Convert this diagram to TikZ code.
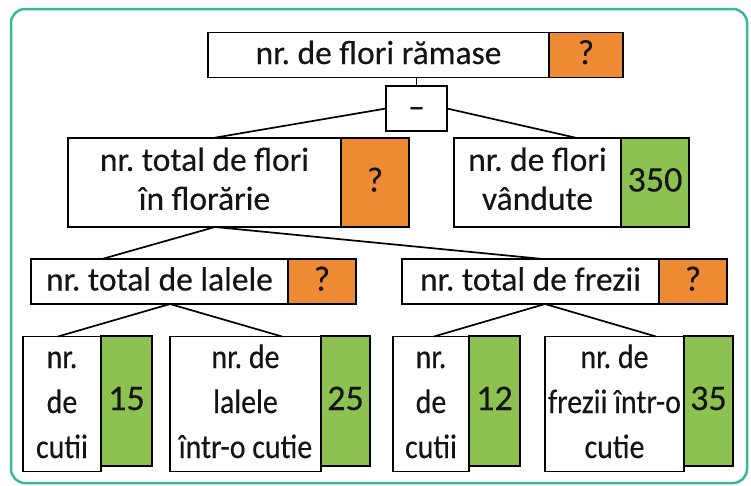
\documentclass[tikz,border=0pt]{standalone}
\usepackage{fontspec}
\setmainfont{Carlito}[FakeBold=0.3]
\newfontfamily\normfont{Carlito}[FakeBold=0.3]
\newfontfamily\narrowfont{Carlito}[FakeStretch=0.88,FakeBold=0.3]
\usetikzlibrary{calc}
\definecolor{qorange}{HTML}{EE8A34}
\definecolor{vgreen}{HTML}{8DC152}
\definecolor{frameteal}{HTML}{3BB7A0}
\definecolor{ink}{HTML}{141414}
\begin{document}
\frenchspacing
\begin{tikzpicture}[x=1pt,y=-1pt,
  cell/.style={draw=black, line width=1.8pt, inner sep=0pt, outer sep=0pt, align=center, text=ink},
  wide1/.style={font=\normfont\fontsize{33.5}{45}\selectfont},
  wide2/.style={font=\normfont\fontsize{33.5}{39}\selectfont},
  narrow3/.style={font=\narrowfont\fontsize{34}{45}\selectfont, yshift=-3pt},
  qcell/.style={cell, fill=qorange, font=\normfont\fontsize{35}{45}\selectfont},
  ncell/.style={cell, fill=vgreen, font=\normfont\fontsize{36}{45}\selectfont},
  conn/.style={line width=1.7pt, draw=black}
]
\useasboundingbox (0,0) rectangle (751,485);
\fill[white] (0,0) rectangle (751,485);
\draw[frameteal, line width=2.5pt, rounded corners=14pt] (11,9) rectangle (747,483);

% level 1
\node[cell, wide1, minimum width=341pt, minimum height=44pt] (T) at (378.5,55) {\strut nr. de flori rămase};
\node[qcell, minimum width=74pt, minimum height=44pt] (TQ) at (586,55) {\strut ?};
\node[cell, wide1, minimum width=61pt, minimum height=35pt] (M) at (416.5,108.5) {\strut –};

% level 2
\node[cell, wide2, minimum width=273pt, minimum height=89pt] (F) at (204.5,182.5) {\strut nr. total de flori\\\strut în florărie};
\node[qcell, minimum width=68pt, minimum height=89pt] (FQ) at (375,182.5) {\strut ?};
\node[cell, wide2, minimum width=167pt, minimum height=89pt] (V) at (537.5,182.5) {\strut nr. de flori\\\strut vândute};
\node[ncell, minimum width=68pt, minimum height=89pt] (VN) at (655,182.5) {\strut 350};

% level 3
\node[cell, wide1, minimum width=257pt, minimum height=45pt] (L) at (159.5,281.5) {\strut nr. total de lalele};
\node[qcell, minimum width=68pt, minimum height=45pt] (LQ) at (322,281.5) {\strut ?};
\node[cell, wide1, minimum width=257pt, minimum height=45pt] (Z) at (530.5,281.5) {\strut nr. total de frezii};
\node[qcell, minimum width=68pt, minimum height=45pt] (ZQ) at (693,281.5) {\strut ?};

% level 4
\node[cell, narrow3, minimum width=78pt, minimum height=130pt] (B1) at (62,401) {\strut nr.\\\strut de\\\strut cutii};
\node[ncell, minimum width=51pt, minimum height=130pt] (G1) at (126.5,401) {\strut 15};
\node[cell, narrow3, minimum width=151pt, minimum height=130pt] (B2) at (245.5,401) {\strut nr. de\\\strut lalele\\\strut într-o cutie};
\node[ncell, minimum width=49pt, minimum height=130pt] (G2) at (345.5,401) {\strut 25};
\node[cell, narrow3, minimum width=76pt, minimum height=130pt] (B3) at (431,401) {\strut nr.\\\strut de\\\strut cutii};
\node[ncell, minimum width=51pt, minimum height=130pt] (G3) at (494.5,401) {\strut 12};
\node[cell, narrow3, minimum width=139pt, minimum height=130pt] (B4) at (614.5,401) {\strut nr. de\\\strut frezii într-o\\\strut cutie};
\node[ncell, minimum width=49pt, minimum height=130pt] (G4) at (708.5,401) {\strut 35};

% connectors
\draw[conn] (M.north) -- (M.north |- T.south);
\draw[conn] (M.west) -- ($(F.north)+(8.5,0)$);
\draw[conn] (M.east) -- ($(V.north)+(39.5,0)$);
\draw[conn] ($(F.south)+(10.5,0)$) -- ($(L.north)+(-57.5,0)$);
\draw[conn] ($(F.south)+(10.5,0)$) -- ($(Z.north)+(12.5,0)$);
\draw[conn] ($(L.south)+(10.5,0)$) -- ($(B1.north)+(-4,0)$);
\draw[conn] ($(L.south)+(10.5,0)$) -- ($(B2.north)+(36.5,0)$);
\draw[conn] ($(Z.south)+(14.5,0)$) -- ($(B3.north)+(3,0)$);
\draw[conn] ($(Z.south)+(14.5,0)$) -- ($(B4.north)+(41.5,0)$);
\end{tikzpicture}
\end{document}
